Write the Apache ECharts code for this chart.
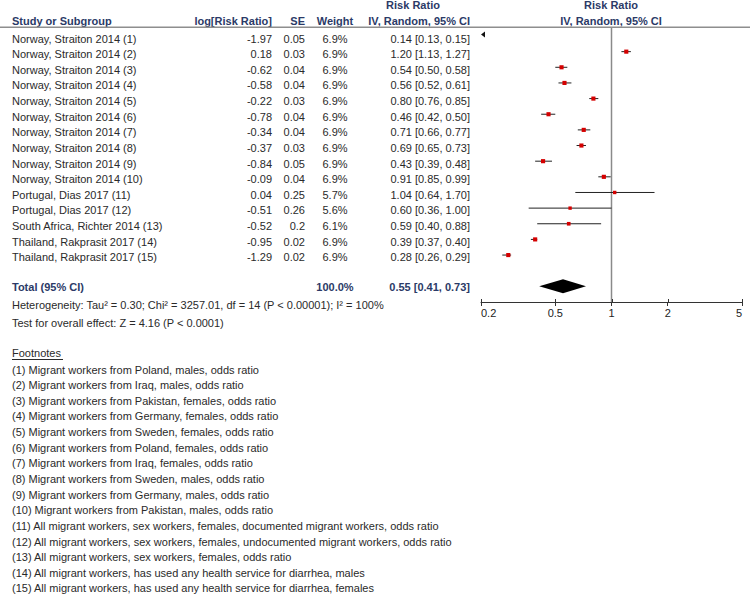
<!DOCTYPE html>
<html>
<head>
<meta charset="utf-8">
<script src="https://cdn.jsdelivr.net/npm/echarts@6/dist/echarts.min.js"></script>
<style>html,body{margin:0;padding:0;background:#fff}#c{width:752px;height:595px}</style>
</head>
<body>
<div id="c"></div>
<script>
const studies = [
  'Norway, Straiton 2014 (1)','Norway, Straiton 2014 (2)','Norway, Straiton 2014 (3)',
  'Norway, Straiton 2014 (4)','Norway, Straiton 2014 (5)','Norway, Straiton 2014 (6)',
  'Norway, Straiton 2014 (7)','Norway, Straiton 2014 (8)','Norway, Straiton 2014 (9)',
  'Norway, Straiton 2014 (10)','Portugal, Dias 2017 (11)','Portugal, Dias 2017 (12)',
  'South Africa, Richter 2014 (13)','Thailand, Rakprasit 2017 (14)','Thailand, Rakprasit 2017 (15)'
];
const logRR = [-1.97, 0.18, -0.62, -0.58, -0.22, -0.78, -0.34, -0.37, -0.84, -0.09, 0.04, -0.51, -0.52, -0.95, -1.29];
const se = [0.05, 0.03, 0.04, 0.04, 0.03, 0.04, 0.04, 0.03, 0.05, 0.04, 0.25, 0.26, 0.2, 0.02, 0.02];
const weights = [6.9, 6.9, 6.9, 6.9, 6.9, 6.9, 6.9, 6.9, 6.9, 6.9, 5.7, 5.6, 6.1, 6.9, 6.9];
const rr = [0.14, 1.20, 0.54, 0.56, 0.80, 0.46, 0.71, 0.69, 0.43, 0.91, 1.04, 0.60, 0.59, 0.39, 0.28];
const ciLow = [0.13, 1.13, 0.50, 0.52, 0.76, 0.42, 0.66, 0.65, 0.39, 0.85, 0.64, 0.36, 0.40, 0.37, 0.26];
const ciHigh = [0.15, 1.27, 0.58, 0.61, 0.85, 0.50, 0.77, 0.73, 0.48, 0.99, 1.70, 1.00, 0.88, 0.40, 0.29];
const totalWeight = 100.0;
const totalRR = 0.55, totalLow = 0.41, totalHigh = 0.73;
const axisTicks = [0.2, 0.5, 1, 2, 5];
const heterogeneity = 'Heterogeneity: Tau\u00b2 = 0.30; Chi\u00b2 = 3257.01, df = 14 (P < 0.00001); I\u00b2 = 100%';
const overallTest = 'Test for overall effect: Z = 4.16 (P < 0.0001)';
const footnotes = [
  '(1) Migrant workers from Poland, males, odds ratio',
  '(2) Migrant workers from Iraq, males, odds ratio',
  '(3) Migrant workers from Pakistan, females, odds ratio',
  '(4) Migrant workers from Germany, females, odds ratio',
  '(5) Migrant workers from Sweden, females, odds ratio',
  '(6) Migrant workers from Poland, females, odds ratio',
  '(7) Migrant workers from Iraq, females, odds ratio',
  '(8) Migrant workers from Sweden, males, odds ratio',
  '(9) Migrant workers from Germany, males, odds ratio',
  '(10) Migrant workers from Pakistan, males, odds ratio',
  '(11) All migrant workers, sex workers, females, documented migrant workers, odds ratio',
  '(12) All migrant workers, sex workers, females, undocumented migrant workers, odds ratio',
  '(13) All migrant workers, sex workers, females, odds ratio',
  '(14) All migrant workers, has used any health service for diarrhea, males',
  '(15) All migrant workers, has used any health service for diarrhea, females'
];

const FONT = '"Liberation Sans", Arial, sans-serif';
const NAVY = '#2b3a67';
const TXT = '#2a2a2a';
const lg = v => Math.log10(v);
const fmtCI = (a, b, c) => a.toFixed(2) + ' [' + b.toFixed(2) + ', ' + c.toFixed(2) + ']';

const ROW0 = 38.5, ROWH = 15.63;
function txt(text, x, y, align, bold, color) {
  return {
    type: 'text', x: x, y: y, silent: true,
    style: {
      text: text, font: (bold ? 'bold ' : '') + '11px ' + FONT,
      fill: color || TXT, textAlign: align || 'left', align: align || 'left',
      textVerticalAlign: 'middle', verticalAlign: 'middle'
    }
  };
}
const graphics = [];
graphics.push({ type: 'rect', id: 'headerRule', silent: true, left: 0, top: 26.5, z: 100, shape: { x: 0, y: 0, width: 750, height: 1.6 }, style: { fill: '#8e8e8e' } });
graphics.push(txt('Risk Ratio', 413, 5, 'center', true, NAVY));
graphics.push(txt('Risk Ratio', 611, 5, 'center', true, NAVY));
graphics.push(txt('Study or Subgroup', 12, 20.5, 'left', true, NAVY));
graphics.push(txt('log[Risk Ratio]', 272, 20.5, 'right', true, NAVY));
graphics.push(txt('SE', 305, 20.5, 'right', true, NAVY));
graphics.push(txt('Weight', 335, 20.5, 'center', true, NAVY));
graphics.push(txt('IV, Random, 95% CI', 470, 20.5, 'right', true, NAVY));
graphics.push(txt('IV, Random, 95% CI', 611, 20.5, 'center', true, NAVY));
studies.forEach((s, i) => {
  const y = ROW0 + ROWH * i;
  graphics.push(txt(s, 12, y, 'left'));
  graphics.push(txt(logRR[i].toFixed(2), 272, y, 'right'));
  graphics.push(txt(String(se[i]), 305, y, 'right'));
  graphics.push(txt(weights[i].toFixed(1) + '%', 335, y, 'center'));
  graphics.push(txt(fmtCI(rr[i], ciLow[i], ciHigh[i]), 470, y, 'right'));
});
graphics.push(txt('Total (95% CI)', 12, 286.5, 'left', true, NAVY));
graphics.push(txt(totalWeight.toFixed(1) + '%', 335, 286.5, 'center', true, NAVY));
graphics.push(txt(fmtCI(totalRR, totalLow, totalHigh), 470, 286.5, 'right', true, NAVY));
graphics.push(txt(heterogeneity, 12, 305, 'left'));
graphics.push(txt(overallTest, 12, 322.5, 'left'));
graphics.push(txt('Footnotes', 12, 353, 'left'));
graphics.push({ type: 'rect', id: 'fnRule', silent: true, shape: { x: 12, y: 359, width: 51, height: 1 }, style: { fill: TXT } });
footnotes.forEach((f, i) => graphics.push(txt(f, 12, 369.5 + 15.64 * i, 'left')));

const studyData = studies.map((s, i) => [lg(rr[i]), lg(ciLow[i]), lg(ciHigh[i]), i, weights[i]]);
const TOTAL_ROW = 16;

const chart = echarts.init(document.getElementById('c'), null, { renderer: 'svg' });
chart.setOption({
  animation: false,
  backgroundColor: '#fff',
  graphic: { elements: graphics },
  grid: { left: 481, right: 10, top: 27, bottom: 293, containLabel: false },
  xAxis: {
    type: 'value', min: lg(0.2), max: lg(5), position: 'bottom',
    axisLine: { show: true, onZero: false, lineStyle: { color: '#333', width: 1 } },
    axisTick: { show: true, length: 4, lineStyle: { color: '#333' }, customValues: axisTicks.map(lg) },
    axisLabel: {
      show: true, margin: 5, color: '#222', fontSize: 11, fontFamily: FONT,
      customValues: axisTicks.map(lg), alignMinLabel: 'left', alignMaxLabel: 'right',
      showMinLabel: true, showMaxLabel: true,
      formatter: v => String(+Math.pow(10, v).toPrecision(2))
    },
    splitLine: { show: false }
  },
  yAxis: { type: 'value', min: -0.575, max: 17, inverse: true, show: false, splitLine: { show: false } },
  series: [{
    type: 'custom', name: 'null line', data: [[0]], clip: false,
    encode: { x: 0 },
    renderItem: (params, api) => {
      const cs = params.coordSys;
      const x = api.coord([api.value(0), 0])[0];
      return { type: 'line', shape: { x1: x, y1: cs.y, x2: x, y2: cs.y + cs.height }, style: { stroke: '#8a8a8a', lineWidth: 1.5 } };
    }
  }, {
    type: 'custom', name: 'tick tops', data: axisTicks.map(v => [lg(v)]), clip: false,
    encode: { x: 0 },
    renderItem: (params, api) => {
      const cs = params.coordSys;
      const x = Math.round(api.coord([api.value(0), 0])[0]) + 0.5;
      const yb = cs.y + cs.height;
      return { type: 'line', shape: { x1: x, y1: yb - 3, x2: x, y2: yb }, style: { stroke: '#333', lineWidth: 1 } };
    }
  }, {
    type: 'custom', name: 'studies', data: studyData, clip: false,
    encode: { x: [0, 1, 2], y: 3 },
    renderItem: (params, api) => {
      const cs = params.coordSys;
      const xmin = cs.x, xmax = cs.x + cs.width;
      const r = api.value(3);
      const pe = api.coord([api.value(0), r]);
      const y = pe[1];
      const x1 = api.coord([api.value(1), r])[0];
      const x2 = api.coord([api.value(2), r])[0];
      if (x2 < xmin) {
        return { type: 'polygon', shape: { points: [[xmin, y - 1.5], [xmin + 4, y - 4.5], [xmin + 4, y + 1.5]] }, style: { fill: '#111' } };
      }
      const s = api.value(4) * 0.6;
      return { type: 'group', children: [
        { type: 'line', shape: { x1: Math.max(x1, xmin), y1: y, x2: Math.min(x2, xmax), y2: y }, style: { stroke: '#222', lineWidth: 1 } },
        { type: 'rect', shape: { x: pe[0] - s / 2, y: y - s / 2, width: s, height: s }, style: { fill: '#d40000' } }
      ] };
    }
  }, {
    type: 'custom', name: 'total', data: [[lg(totalRR), lg(totalLow), lg(totalHigh), TOTAL_ROW]],
    encode: { x: [0, 1, 2], y: 3 },
    renderItem: (params, api) => {
      const r = api.value(3);
      const pe = api.coord([api.value(0), r]);
      const xl = api.coord([api.value(1), r])[0];
      const xh = api.coord([api.value(2), r])[0];
      const y = pe[1];
      return { type: 'polygon', shape: { points: [[xl, y], [pe[0], y - 7], [xh, y], [pe[0], y + 7]] }, style: { fill: '#000' } };
    }
  }]
});
</script>
</body>
</html>
